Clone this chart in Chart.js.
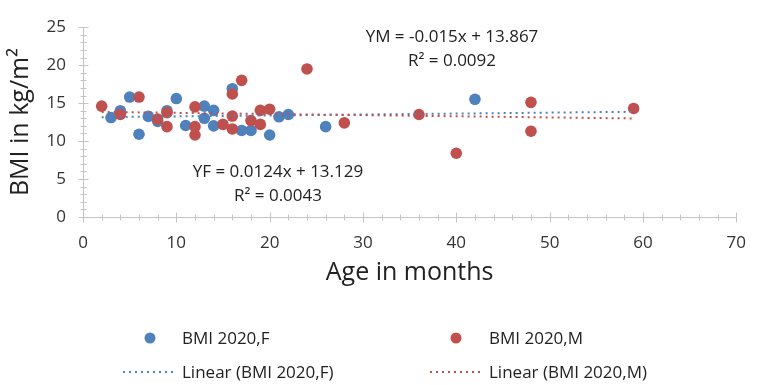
<!DOCTYPE html>
<html>
<head>
<meta charset="utf-8">
<title>BMI vs age</title>
<script src="https://cdn.jsdelivr.net/npm/chart.js@4.4.1/dist/chart.umd.min.js"></script>
<style>
	html, body { margin: 0; padding: 0; background: #fff; }
	#wrap { position: relative; width: 762px; height: 385px; font-family: 'Open Sans', sans-serif; color: #222; }
	#chart { position: absolute; left: 0; top: 0; }
	.eq { position: absolute; font-size: 17px; line-height: 24px; text-align: center; white-space: nowrap; transform: translate(-50%, -12px); }
	.leg { position: absolute; font-size: 17px; line-height: 20px; white-space: nowrap; transform: translateY(-50%); }
	.dot { position: absolute; width: 11px; height: 11px; border-radius: 50%; transform: translate(-50%, -50%); }
	.dash { position: absolute; height: 2px; transform: translateY(-50%); }
</style>
</head>
<body>
<div id="wrap">
	<canvas id="chart" width="762" height="385"></canvas>
	<div class="eq" style="left:452px; top:36px;">YM = -0.015x + 13.867<br>R² = 0.0092</div>
	<div class="eq" style="left:278px; top:171px;">YF = 0.0124x + 13.129<br>R² = 0.0043</div>

	<div class="dot" style="left:150px; top:338px; background:#4f81bd;"></div>
	<div class="leg" style="left:182px; top:338px;">BMI 2020,F</div>
	<div class="dash" style="left:123px; top:372px; width:50px; background:repeating-linear-gradient(to right, #4f81bd 0 2px, transparent 2px 6px);"></div>
	<div class="leg" style="left:182px; top:372px;">Linear (BMI 2020,F)</div>

	<div class="dot" style="left:456px; top:338px; background:#c0504d;"></div>
	<div class="leg" style="left:489px; top:338px;">BMI 2020,M</div>
	<div class="dash" style="left:430px; top:372px; width:50px; background:repeating-linear-gradient(to right, #c0504d 0 2px, transparent 2px 6px);"></div>
	<div class="leg" style="left:489px; top:372px;">Linear (BMI 2020,M)</div>
</div>
<script>
// age in months / BMI
const femaleAge = [3, 4, 5, 6, 7, 8, 9, 10, 11, 13, 13, 14, 14, 16, 17, 18, 20, 21, 22, 26, 42];
const femaleBmi = [13.1, 14.0, 15.8, 10.9, 13.25, 12.6, 14.0, 15.6, 12.05, 14.6, 13.0, 14.05, 12.0, 16.9, 11.4, 11.4, 10.8, 13.2, 13.5, 11.9, 15.5];

const maleAge = [2, 4, 6, 8, 9, 9, 12, 12, 12, 15, 16, 16, 16, 17, 18, 19, 19, 20, 24, 28, 36, 40, 48, 48, 59];
const maleBmi = [14.6, 13.5, 15.8, 12.9, 13.75, 11.9, 14.5, 11.9, 10.8, 12.2, 16.2, 13.3, 11.6, 18.0, 12.7, 14.05, 12.2, 14.2, 19.5, 12.4, 13.5, 8.4, 15.1, 11.3, 14.3];

// trendline ends
const trendAge = [2, 59];
const femaleTrend = [13.15, 13.86];
const maleTrend = [13.84, 12.98];

const xTicks = [0, 10, 20, 30, 40, 50, 60, 70];
const yTicks = [0, 5, 10, 15, 20, 25];

const BLUE = '#4f81bd';
const RED = '#c0504d';

const toPoints = (xs, ys) => xs.map((x, i) => ({ x, y: ys[i] }));

// excel-like axis lines with crossing major/minor ticks
const axisMarks = {
	id: 'axisMarks',
	beforeDatasetsDraw(chart) {
		const { ctx, chartArea: a, scales: { x, y } } = chart;
		ctx.save();
		ctx.strokeStyle = '#c4c4c4';
		ctx.lineWidth = 1;
		ctx.beginPath();
		const bx = Math.round(a.left) + 0.5;
		const by = Math.round(a.bottom) + 0.5;
		ctx.moveTo(bx, Math.round(a.top));
		ctx.lineTo(bx, by);
		ctx.lineTo(Math.round(a.right), by);
		for (let v = x.min; v <= x.max; v += 2) {
			const px = Math.round(x.getPixelForValue(v)) + 0.5;
			const len = xTicks.includes(v) ? 5 : 3;
			ctx.moveTo(px, by - len);
			ctx.lineTo(px, by + len);
		}
		for (let v = y.min; v <= y.max; v += 1) {
			const py = Math.round(y.getPixelForValue(v)) + 0.5;
			const len = yTicks.includes(v) ? 5 : 3;
			ctx.moveTo(bx - len, py);
			ctx.lineTo(bx + len, py);
		}
		ctx.stroke();
		ctx.restore();
	}
};

new Chart(document.getElementById('chart'), {
	type: 'scatter',
	data: {
		datasets: [
			{
				label: 'Linear (BMI 2020,F)',
				type: 'line',
				data: toPoints(trendAge, femaleTrend),
				borderColor: BLUE,
				borderWidth: 2,
				borderDash: [2, 4],
				pointRadius: 0,
				fill: false,
				order: 1
			},
			{
				label: 'Linear (BMI 2020,M)',
				type: 'line',
				data: toPoints(trendAge, maleTrend),
				borderColor: RED,
				borderWidth: 2,
				borderDash: [2, 4],
				pointRadius: 0,
				fill: false,
				order: 0
			},
			{
				label: 'BMI 2020,F',
				data: toPoints(femaleAge, femaleBmi),
				backgroundColor: BLUE,
				borderWidth: 0,
				pointRadius: 5.8,
				order: 3
			},
			{
				label: 'BMI 2020,M',
				data: toPoints(maleAge, maleBmi),
				backgroundColor: RED,
				borderWidth: 0,
				pointRadius: 5.8,
				order: 2
			}
		]
	},
	options: {
		responsive: false,
		animation: false,
		layout: { padding: { top: 19.5, right: 14, bottom: 0, left: 0 } },
		plugins: {
			legend: { display: false },
			tooltip: { enabled: false }
		},
		scales: {
			x: {
				type: 'linear',
				min: 0, max: 70,
				afterFit: s => { s.height = 168; },
				grid: { display: false, drawTicks: false },
				border: { display: false },
				ticks: {
					stepSize: 10,
					padding: 16,
					color: '#333',
					font: { family: 'Open Sans', size: 17 }
				},
				title: {
					display: true,
					text: 'Age in months',
					color: '#222',
					font: { family: 'Open Sans', size: 25 },
					padding: { top: 0, bottom: 97 }
				}
			},
			y: {
				min: 0, max: 25,
				afterFit: s => { s.width = 83; },
				grid: { display: false, drawTicks: false },
				border: { display: false },
				ticks: {
					stepSize: 5,
					padding: 17,
					color: '#333',
					font: { family: 'Open Sans', size: 17 }
				},
				title: {
					display: true,
					text: 'BMI in kg/m²',
					color: '#222',
					font: { family: 'Open Sans', size: 25 },
					padding: { top: 6, bottom: 0 }
				}
			}
		}
	},
	plugins: [axisMarks]
});
</script>
</body>
</html>
